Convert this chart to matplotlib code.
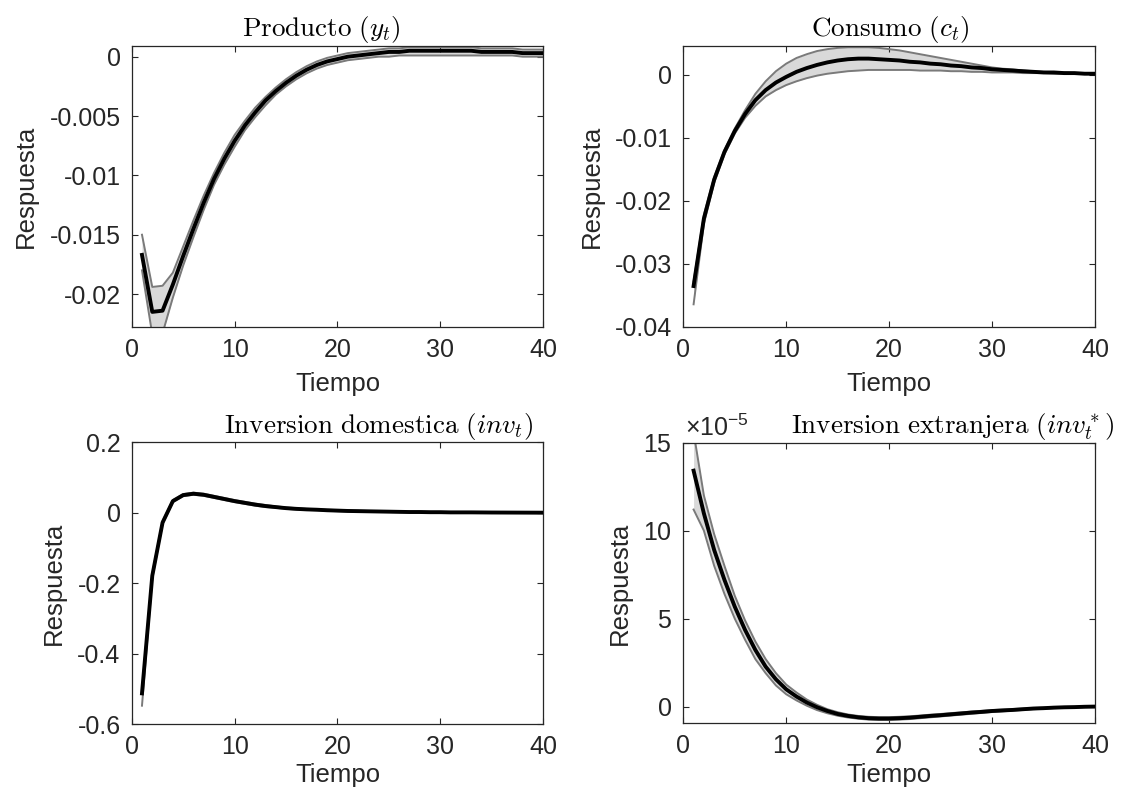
import matplotlib
matplotlib.use("Agg")
import matplotlib.pyplot as plt
import numpy as np
from matplotlib.ticker import FuncFormatter, ScalarFormatter

plt.rcParams.update({
    "font.family": ["Liberation Sans", "DejaVu Sans"],
    "mathtext.fontset": "cm",
    "axes.unicode_minus": False,
    "axes.edgecolor": "#262626",
    "axes.linewidth": 0.9,
    "xtick.color": "#262626",
    "ytick.color": "#262626",
})

tiempo = np.arange(1, 41)

# Producto (y_t)
prod_mean = [-0.0167, -0.0215, -0.0214, -0.0192, -0.0168, -0.0145, -0.0123, -0.0103, -0.0086, -0.0071,
             -0.0058, -0.0047, -0.0037, -0.0029, -0.0022, -0.0016, -0.0011, -0.0007, -0.0004, -0.0002,
             0.0000, 0.0001, 0.0002, 0.0003, 0.0004, 0.0004, 0.0005, 0.0005, 0.0005, 0.0005,
             0.0005, 0.0005, 0.0005, 0.0004, 0.0004, 0.0004, 0.0004, 0.0003, 0.0003, 0.0003]
prod_sup = [-0.0150, -0.0194, -0.0193, -0.0182, -0.0160, -0.0138, -0.0117, -0.0098, -0.0081, -0.0066,
            -0.0054, -0.0043, -0.0034, -0.0026, -0.0019, -0.0013, -0.0008, -0.0004, -0.0001, 0.0001,
            0.0003, 0.0004, 0.0005, 0.0006, 0.0007, 0.0007, 0.0008, 0.0008, 0.0008, 0.0008,
            0.0008, 0.0008, 0.0008, 0.0007, 0.0007, 0.0007, 0.0007, 0.0006, 0.0006, 0.0006]
prod_inf = [-0.0180, -0.0234, -0.0233, -0.0203, -0.0176, -0.0152, -0.0129, -0.0108, -0.0091, -0.0076,
            -0.0062, -0.0051, -0.0041, -0.0032, -0.0025, -0.0019, -0.0014, -0.0010, -0.0007, -0.0005,
            -0.0003, -0.0002, -0.0001, 0.0000, 0.0000, 0.0001, 0.0001, 0.0001, 0.0001, 0.0001,
            0.0001, 0.0001, 0.0001, 0.0001, 0.0001, 0.0001, 0.0001, 0.0000, 0.0000, 0.0000]

# Consumo (c_t)
cons_mean = [-0.0335, -0.0228, -0.0166, -0.0122, -0.0089, -0.0062, -0.0040, -0.0024, -0.0012, -0.0003,
             0.0005, 0.0011, 0.0016, 0.0020, 0.0023, 0.0025, 0.0026, 0.0026, 0.0025, 0.0024,
             0.0023, 0.0021, 0.0020, 0.0018, 0.0017, 0.0015, 0.0014, 0.0012, 0.0011, 0.0009,
             0.0008, 0.0007, 0.0006, 0.0005, 0.0004, 0.0004, 0.0003, 0.0003, 0.0002, 0.0002]
cons_sup = [-0.0328, -0.0222, -0.0162, -0.0119, -0.0085, -0.0056, -0.0030, -0.0010, 0.0006, 0.0018,
            0.0027, 0.0033, 0.0038, 0.0041, 0.0043, 0.0044, 0.0044, 0.0044, 0.0043, 0.0041,
            0.0039, 0.0036, 0.0033, 0.0030, 0.0027, 0.0024, 0.0021, 0.0018, 0.0015, 0.0012,
            0.0010, 0.0009, 0.0007, 0.0006, 0.0005, 0.0004, 0.0004, 0.0003, 0.0003, 0.0002]
cons_inf = [-0.0364, -0.0236, -0.0171, -0.0126, -0.0093, -0.0068, -0.0049, -0.0034, -0.0024, -0.0016,
            -0.0010, -0.0005, -0.0001, 0.0002, 0.0004, 0.0006, 0.0007, 0.0008, 0.0008, 0.0008,
            0.0008, 0.0008, 0.0007, 0.0007, 0.0007, 0.0006, 0.0006, 0.0005, 0.0005, 0.0004,
            0.0004, 0.0004, 0.0003, 0.0003, 0.0003, 0.0002, 0.0002, 0.0002, 0.0002, 0.0002]

# Inversion domestica (inv_t)
invd_mean = [-0.513, -0.179, -0.028, 0.033, 0.050, 0.054, 0.051, 0.045, 0.039, 0.033,
             0.028, 0.023, 0.019, 0.016, 0.013, 0.011, 0.0095, 0.0085, 0.007, 0.006,
             0.005, 0.0045, 0.004, 0.0035, 0.003, 0.0025, 0.002, 0.002, 0.0015, 0.0015,
             0.001, 0.001, 0.001, 0.0008, 0.0006, 0.0005, 0.0004, 0.0003, 0.0002, 0.0001]
invd_sup = [-0.505, -0.173, -0.024, 0.036, 0.053, 0.057, 0.054, 0.048, 0.042, 0.036,
            0.031, 0.026, 0.022, 0.018, 0.015, 0.013, 0.011, 0.010, 0.0085, 0.0075,
            0.0065, 0.006, 0.005, 0.0045, 0.004, 0.0035, 0.003, 0.003, 0.0025, 0.0025,
            0.002, 0.002, 0.002, 0.0015, 0.0013, 0.0011, 0.001, 0.0008, 0.0007, 0.0006]
invd_inf = [-0.548, -0.186, -0.032, 0.030, 0.047, 0.051, 0.048, 0.042, 0.036, 0.030,
            0.025, 0.020, 0.016, 0.014, 0.011, 0.009, 0.008, 0.007, 0.0055, 0.0045,
            0.0035, 0.003, 0.003, 0.0025, 0.002, 0.0015, 0.001, 0.001, 0.0005, 0.0005,
            0.0, 0.0, 0.0, 0.0001, -0.0001, -0.0001, -0.0002, -0.0002, -0.0003, -0.0004]

# Inversion extranjera (inv*_t), en unidades de 1e-5
inve_mean = [13.41, 10.98, 8.90, 7.20, 5.68, 4.36, 3.22, 2.27, 1.55, 0.98,
             0.57, 0.23, -0.04, -0.25, -0.42, -0.53, -0.61, -0.66, -0.68, -0.68,
             -0.66, -0.63, -0.58, -0.53, -0.49, -0.44, -0.39, -0.34, -0.30, -0.25,
             -0.22, -0.19, -0.15, -0.11, -0.09, -0.06, -0.04, -0.03, -0.01, 0.00]
inve_sup = [15.6, 12.0, 9.8, 8.0, 6.3, 4.9, 3.7, 2.7, 1.9, 1.25,
            0.8, 0.4, 0.1, -0.15, -0.32, -0.45, -0.53, -0.58, -0.60, -0.60,
            -0.58, -0.55, -0.51, -0.46, -0.42, -0.37, -0.33, -0.28, -0.24, -0.20,
            -0.17, -0.14, -0.11, -0.08, -0.06, -0.04, -0.02, -0.01, 0.01, 0.02]
inve_inf = [11.2, 10.0, 8.0, 6.4, 5.0, 3.8, 2.7, 1.9, 1.2, 0.7,
            0.35, 0.05, -0.20, -0.38, -0.52, -0.62, -0.69, -0.74, -0.76, -0.76,
            -0.74, -0.71, -0.66, -0.61, -0.56, -0.51, -0.46, -0.41, -0.36, -0.31,
            -0.27, -0.23, -0.19, -0.15, -0.12, -0.09, -0.07, -0.05, -0.03, -0.02]
ESCALA = 1e-5

TICK_FS = 18
LABEL_FS = 18.5
TITLE_FS = 19.5


def g_fmt(v, pos):
    return "%g" % round(v, 6)


def panel(ax, mean, sup, inf, title, title_x, ylim, yticks, xpad):
    ax.fill_between(tiempo, inf, sup, color="#d9d9d9", lw=0, zorder=1)
    ax.plot(tiempo, sup, color="#7a7a7a", lw=1.4, zorder=2)
    ax.plot(tiempo, inf, color="#7a7a7a", lw=1.4, zorder=2)
    ax.plot(tiempo, mean, color="black", lw=2.8, zorder=3)
    ax.set_xlim(0, 40)
    ax.set_ylim(*ylim)
    ax.set_xticks([0, 10, 20, 30, 40])
    ax.set_yticks(yticks)
    ax.tick_params(direction="in", length=4, width=0.8, top=True, right=True,
                   labelsize=TICK_FS, pad=8)
    ax.set_xlabel("Tiempo", fontsize=LABEL_FS, labelpad=xpad, color="#262626")
    ax.set_ylabel("Respuesta", fontsize=LABEL_FS, labelpad=8, color="#262626")
    ax.set_title(title, fontsize=TITLE_FS, x=title_x, pad=7)


fig = plt.figure(figsize=(11.3, 7.97), dpi=100)
W, H = 1130, 797


def add_axes(x0, y0, x1, y1):
    return fig.add_axes([x0 / W, 1 - y1 / H, (x1 - x0) / W, (y1 - y0) / H])


ax1 = add_axes(131.7, 46, 543.2, 327.3)
ax2 = add_axes(683.3, 46, 1095, 327)
ax3 = add_axes(131.7, 442.3, 543.2, 724)
ax4 = add_axes(683.3, 442.7, 1095, 723.3)

panel(ax1, prod_mean, prod_sup, prod_inf, r"$\mathrm{Producto}\ (y_t)$", 0.46,
      (-0.0228, 0.0009), [-0.02, -0.015, -0.01, -0.005, 0], 7)
ax1.yaxis.set_major_formatter(FuncFormatter(g_fmt))

panel(ax2, cons_mean, cons_sup, cons_inf, r"$\mathrm{Consumo}\ (c_t)$", 0.502,
      (-0.04, 0.0046), [-0.04, -0.03, -0.02, -0.01, 0], 7)
ax2.yaxis.set_major_formatter(FuncFormatter(g_fmt))

panel(ax3, invd_mean, invd_sup, invd_inf, r"$\mathrm{Inversion\ domestica}\ (inv_t)$", 0.6,
      (-0.6, 0.2), [-0.6, -0.4, -0.2, 0, 0.2], 3)
ax3.yaxis.set_major_formatter(FuncFormatter(g_fmt))

panel(ax4, np.array(inve_mean) * ESCALA, np.array(inve_sup) * ESCALA, np.array(inve_inf) * ESCALA,
      r"$\mathrm{Inversion\ extranjera}\ (inv_t^*)$", 0.655,
      (-0.95e-5, 15e-5), [0, 5e-5, 10e-5, 15e-5], 3)
fmt = ScalarFormatter(useMathText=True)
fmt.set_powerlimits((-5, -5))
ax4.yaxis.set_major_formatter(fmt)
ax4.yaxis.get_offset_text().set_visible(False)
ax4.text(0.005, 1.005, r"$\mathregular{\times10^{-5}}$", transform=ax4.transAxes,
         ha="left", va="bottom", fontsize=TICK_FS, color="#262626")

fig.savefig("out.png", dpi=100)
